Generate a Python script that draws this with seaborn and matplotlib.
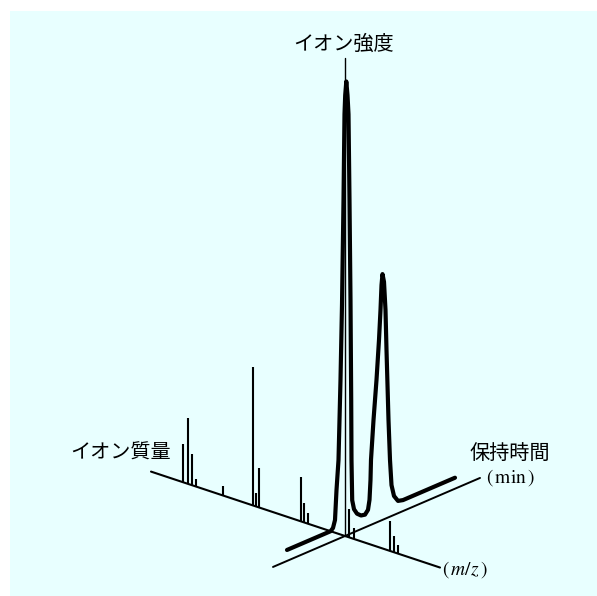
import matplotlib
matplotlib.use("Agg")
import numpy as np
import pandas as pd
import matplotlib.pyplot as plt
from matplotlib.patches import Rectangle
import seaborn as sns

# Total ion chromatogram: retention time (min) and relative intensity (%)
rt_min = [3.64, 8.00, 8.24, 8.44, 8.59, 8.79, 8.99, 9.14, 9.29, 9.39, 9.46,
          9.57, 9.69, 9.79, 9.89, 9.99, 10.06, 10.09, 10.16, 10.34, 10.64,
          11.04, 11.44, 11.74, 11.89, 11.99, 12.04, 12.29, 12.59, 12.84, 12.99,
          13.09, 13.19, 13.34, 13.49, 13.59, 13.79, 13.94, 14.09, 14.34, 14.74,
          15.24, 20.44]
tic_pct = [0, 0, 0.5, 2.1, 8.7, 15.3, 33.2, 50.0, 73.5, 92.8, 97.0,
           100, 96.8, 92.4, 72.9, 50.3, 27.6, 14.0, 4.9, 2.7, 1.4,
           0.6, 0.4, 1.2, 3.3, 7.7, 12.2, 20.9, 29.7, 38.5, 45.1,
           50.6, 53.0, 51.1, 44.6, 35.5, 19.5, 10.3, 4.5, 1.8, 0.3,
           0, 0]

# Mass spectrum (m/z, relative abundance %) recorded at the scan time
mz_vals = [38, 43, 47, 51, 78, 108, 111, 114, 156, 159, 163, 204, 209, 245, 249, 253]
abund_pct = [27.7, 47.4, 22.3, 5.1, 6.8, 100, 9.5, 28.3, 31.8, 14.2, 7.4,
             20.2, 8.2, 21.9, 11.8, 6.2]

# Axis extents
rt_range = [0.8, 21.5]
mz_range = [6, 295]
inten_max = 108

# Axis titles
label_inten = "イオン強度"
label_mass = "イオン質量"
label_time = "保持時間"
unit_time = r"$(\,\mathrm{min}\,)$"
unit_mass = r"$(\,m/z\,)$"

# Oblique projection (rt, m/z, height) -> canvas pixels
RT0, MZ0 = 8.0, 200.0
ORIGIN = np.array([345.0, 536.0])
RT_VEC = np.array([10.0, -4.3])
MZ_VEC = np.array([1.0, 0.332])
TIC_SCALE = 4.43
MS_SCALE = 1.383
TIC_PLANE_MZ = 185.6


def project(rt, mz, height):
    rt = np.asarray(rt, float)
    mz = np.asarray(mz, float)
    height = np.asarray(height, float)
    x = ORIGIN[0] + (rt - RT0) * RT_VEC[0] + (mz - MZ0) * MZ_VEC[0]
    y = ORIGIN[1] + (rt - RT0) * RT_VEC[1] + (mz - MZ0) * MZ_VEC[1] - height
    return x, y


sns.set_theme(style="white")
plt.rcParams["font.family"] = ["Noto Sans CJK JP", "DejaVu Sans"]
plt.rcParams["mathtext.fontset"] = "stix"

fig = plt.figure(figsize=(5.97, 5.96), dpi=100, facecolor="white")
ax = fig.add_axes([0, 0, 1, 1])
ax.set_xlim(0, 597)
ax.set_ylim(596, 0)
ax.axis("off")
ax.add_patch(Rectangle((10, 11), 600, 600, facecolor="#E8FFFF", edgecolor="none", zorder=0))

ink = "black"

# Axes of the 3D frame
ax_x, ax_y = project([RT0, RT0], [MZ0, MZ0], [0, inten_max * TIC_SCALE])
sns.lineplot(x=ax_x, y=ax_y, sort=False, estimator=None, color=ink, lw=1.0, ax=ax, zorder=2)
mx, my = project([RT0, RT0], mz_range, [0, 0])
sns.lineplot(x=mx, y=my, sort=False, estimator=None, color=ink, lw=1.5, ax=ax, zorder=2)
tx, ty = project(rt_range, [MZ0, MZ0], [0, 0])
sns.lineplot(x=tx, y=ty, sort=False, estimator=None, color=ink, lw=1.4, ax=ax, zorder=2)

# Mass spectrum sticks along the m/z axis
bx, by = project(np.full(len(mz_vals), RT0), mz_vals, np.zeros(len(mz_vals)))
_, ty_top = project(np.full(len(mz_vals), RT0), mz_vals, np.array(abund_pct) * MS_SCALE)
ax.vlines(bx, ty_top, by, colors=ink, lw=1.5, zorder=3)

# Chromatogram
tic_df = pd.DataFrame({"rt": rt_min, "tic": tic_pct})
cx, cy = project(tic_df["rt"], np.full(len(tic_df), TIC_PLANE_MZ), tic_df["tic"] * TIC_SCALE)
sns.lineplot(x=cx, y=cy, sort=False, estimator=None, color=ink, lw=3.0, ax=ax, zorder=4)
for ln in ax.lines:
    ln.set_solid_capstyle("round")
    ln.set_solid_joinstyle("round")

# Labels
ax.text(344, 44, label_inten, ha="center", va="center", fontsize=14.5, color=ink)
ax.text(121, 453, label_mass, ha="center", va="center", fontsize=14.5, color=ink)
ax.text(510, 453, label_time, ha="center", va="center", fontsize=14.5, color=ink)
ax.text(511, 478, unit_time, ha="center", va="center", fontsize=14, color=ink)
ax.text(465, 570, unit_mass, ha="center", va="center", fontsize=14, color=ink)

fig.savefig("out.png", dpi=100, facecolor="white")
